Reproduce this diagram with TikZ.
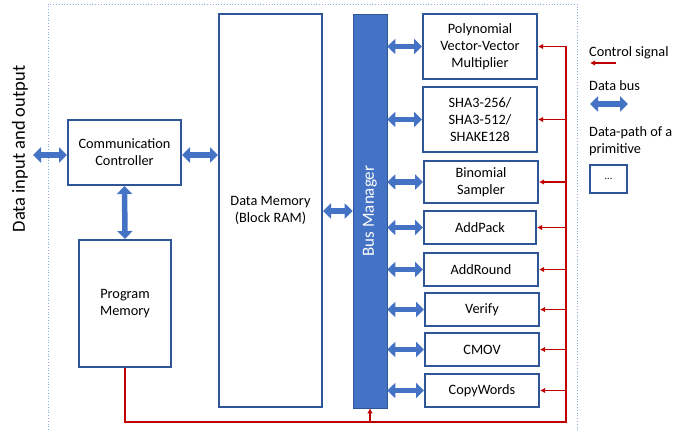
\documentclass[tikz,border=0pt]{standalone}
\usepackage{fontspec}
\setmainfont{Carlito}
\usetikzlibrary{arrows.meta}
\definecolor{boxblue}{HTML}{2F5597}
\definecolor{busblue}{HTML}{4472C4}
\definecolor{ctrlred}{HTML}{C00000}
\definecolor{frameblue}{HTML}{8FAADC}
\begin{document}
\begin{tikzpicture}[x=1pt,y=-1pt,
  blk/.style={draw=boxblue, line width=2pt, fill=white, align=center, inner sep=0pt,
    font=\fontsize{14.3}{17.2}\selectfont},
  dbus/.style={draw=busblue, line width=5.5pt,
    {Triangle[width=15pt,length=8pt]}-{Triangle[width=15pt,length=8pt]}},
  ctrl/.style={draw=ctrlred, line width=1.8pt, -{Latex[length=5pt,width=5.5pt]}},
  ctrlline/.style={draw=ctrlred, line width=1.8pt},
  lgd/.style={anchor=west, align=left, inner sep=0pt, font=\fontsize{14.3}{17.2}\selectfont}
]
\useasboundingbox (0,0) rectangle (676,430);
% frame
\draw[frameblue, dotted, line width=0.8pt] (48,430) -- (48,4) -- (577,4) -- (577,430);

% nodes
\node[blk, minimum width=113pt, minimum height=65pt] (comm) at (124.5,152.5) {Communication\\Controller};
\node[blk, minimum width=103pt, minimum height=393pt] (dmem) at (270.5,210.5) {Data Memory\\(Block RAM)};
\node[blk, minimum width=92pt, minimum height=127pt] (prog) at (125,303.5) {Program\\Memory};
\node[draw=boxblue, fill=busblue, line width=0.6pt, minimum width=34pt, minimum height=394pt, inner sep=0pt] (bus) at (370,211) {};
\node[rotate=90, text=white, font=\fontsize{17}{20}\selectfont] (bustext) at (370,211) {Bus Manager};

\node[blk, minimum width=114pt, minimum height=65pt] (poly) at (480,46.5) {Polynomial\\Vector-Vector\\Multiplier};
\node[blk, minimum width=114pt, minimum height=65pt] (shabox) at (480,119.5) {SHA3-256/\\SHA3-512/\\SHAKE128};
\node[blk, minimum width=114pt, minimum height=42pt] (binom) at (481,182) {Binomial\\Sampler};
\node[blk, minimum width=112pt, minimum height=33pt] (addpack) at (480,227.5) {AddPack};
\node[blk, minimum width=114pt, minimum height=33pt] (addround) at (481,269.5) {AddRound};
\node[blk, minimum width=114pt, minimum height=33pt] (verify) at (482,309.5) {Verify};
\node[blk, minimum width=114pt, minimum height=33pt] (cmov) at (482,349.5) {CMOV};
\node[blk, minimum width=114pt, minimum height=33pt] (copyw) at (482,390.5) {CopyWords};

\node[rotate=90, font=\fontsize{18.5}{22}\selectfont] (io) at (20,149) {Data input and output};

% coordinates
\coordinate (ioend) at (33,155);
\coordinate (rail) at (566,46.5);
\coordinate (railbot) at (566,422);
\coordinate (progbot) at (125,422);
\coordinate (busbot) at (370,422);

% data buses
\draw[dbus] (ioend) -- (comm.west |- ioend);
\draw[dbus] (comm.east |- ioend) -- (dmem.west |- ioend);
\draw[dbus] (comm.south) -- (prog.north);
\draw[dbus] (dmem.east |- bus.west) -- (bus.west);
\draw[dbus] (bus.east |- poly.west) -- (poly.west);
\draw[dbus] (bus.east |- shabox.west) -- (shabox.west);
\draw[dbus] (bus.east |- binom.west) -- (binom.west);
\draw[dbus] (bus.east |- addpack.west) -- (addpack.west);
\draw[dbus] (bus.east |- addround.west) -- (addround.west);
\draw[dbus] (bus.east |- verify.west) -- (verify.west);
\draw[dbus] (bus.east |- cmov.west) -- (cmov.west);
\draw[dbus] (bus.east |- copyw.west) -- (copyw.west);

% control signals
\draw[ctrlline, line join=miter] (prog.south) -- (progbot) -- (railbot) -- (rail);
\draw[ctrl] (busbot) -- (bus.south);
\draw[ctrl] (rail |- poly.east) -- (poly.east);
\draw[ctrl] (rail |- shabox.east) -- (shabox.east);
\draw[ctrl] (rail |- binom.east) -- (binom.east);
\draw[ctrl] (rail |- addpack.east) -- (addpack.east);
\draw[ctrl] (rail |- addround.east) -- (addround.east);
\draw[ctrl] (rail |- verify.east) -- (verify.east);
\draw[ctrl] (rail |- cmov.east) -- (cmov.east);
\draw[ctrl] (rail |- copyw.east) -- (copyw.east);

% legend
\node[lgd] (l1) at (589,53) {Control signal};
\coordinate (l1a) at (616,63);
\coordinate (l1b) at (590,63);
\draw[ctrl] (l1a) -- (l1b);
\node[lgd] (l2) at (589,86) {Data bus};
\coordinate (l2a) at (590,104);
\coordinate (l2b) at (628,104);
\draw[dbus] (l2a) -- (l2b);
\node[lgd] (l3) at (589,141) {Data-path of a\\primitive};
\node[draw=boxblue, line width=2pt, minimum width=37pt, minimum height=28pt, inner sep=0pt,
  font=\fontsize{10}{12}\selectfont] (l4) at (608.5,179) {...};
\end{tikzpicture}
\end{document}
